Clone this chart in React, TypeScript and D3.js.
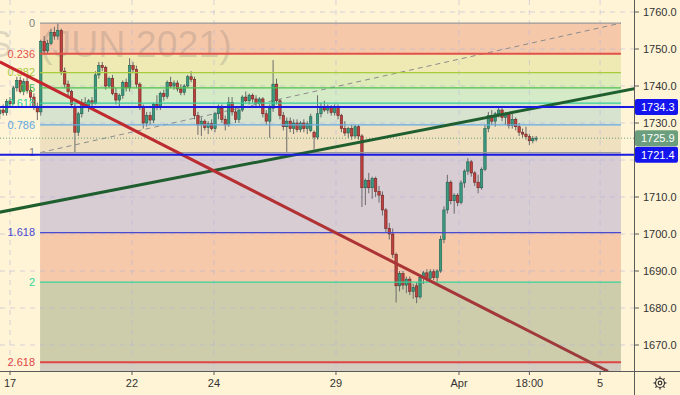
import React, { useEffect } from 'react';
import * as d3 from 'd3';

// 2h bars, [open, high, low, close]
const candles: [number, number, number, number][] = [
  [1732.5, 1734, 1731, 1733.5], [1733.5, 1735, 1732, 1732.8], [1732.8, 1736.5, 1732, 1735.8], [1735.8, 1737, 1734.5, 1735.2],
  [1735.2, 1740, 1735, 1739.5], [1739.5, 1742.5, 1738.5, 1741.5], [1741.5, 1742.5, 1738, 1738.5], [1738.5, 1742, 1737.5, 1741.2],
  [1741.2, 1742.5, 1738, 1738.8], [1738.8, 1740, 1736, 1737], [1737, 1738, 1733.5, 1734.5], [1734.5, 1735.5, 1730.8, 1733],
  [1733, 1752.5, 1732, 1752], [1752, 1753.5, 1748.5, 1749.5], [1749.5, 1752.5, 1748.5, 1751.5], [1751.5, 1755.5, 1751, 1754.5],
  [1754.5, 1756, 1752.5, 1753.5], [1753.5, 1757, 1752.5, 1755], [1755, 1755.5, 1743, 1744], [1744, 1745, 1739.5, 1740.5],
  [1740.5, 1741.5, 1737.5, 1738.5], [1738.5, 1739, 1734, 1735], [1734.5, 1735.5, 1722, 1727.5], [1727.5, 1733, 1726.5, 1732.5],
  [1732.5, 1736.5, 1731.5, 1735.5], [1735.5, 1737, 1734, 1734.5], [1734.5, 1736.5, 1733, 1736], [1736, 1737, 1734.5, 1735.2],
  [1735.2, 1744, 1735, 1743], [1743, 1746.5, 1742, 1745.5], [1745.5, 1746.5, 1744, 1745], [1745, 1745.5, 1739, 1740],
  [1740, 1742.5, 1739.5, 1742], [1742, 1743, 1737.5, 1738], [1738, 1739.5, 1735, 1736.2], [1736.2, 1738, 1734.5, 1737.5],
  [1737.5, 1741.5, 1736.5, 1741], [1741, 1742, 1738.5, 1739.5], [1739.5, 1747.5, 1738.5, 1745.5], [1745.5, 1746.5, 1743.5, 1744.5],
  [1744.5, 1745.5, 1739.5, 1740.5], [1740.5, 1741, 1733.5, 1734.5], [1734.5, 1735, 1728.5, 1730], [1730, 1733, 1729, 1732],
  [1732, 1733, 1729.5, 1730.8], [1730.8, 1735.5, 1730, 1735], [1735, 1737.5, 1733.5, 1734.2], [1734.2, 1738.5, 1733.5, 1738],
  [1738, 1739, 1736, 1737.2], [1737.2, 1741.5, 1736.5, 1741], [1741, 1742.5, 1739.5, 1740], [1740, 1741.5, 1739, 1740.8],
  [1740.8, 1741.5, 1738.5, 1739.2], [1739.2, 1740.5, 1737.5, 1738.3], [1738.3, 1740.5, 1737.5, 1740], [1740, 1743, 1739.5, 1742.5],
  [1742.5, 1744, 1741, 1741.8], [1741.8, 1742.5, 1731, 1732], [1732, 1733, 1726.8, 1729.5], [1729.5, 1731.5, 1726.5, 1730.5],
  [1730.5, 1731, 1728, 1728.8], [1728.8, 1730.5, 1727, 1729.8], [1729.8, 1731, 1728, 1728.5], [1728.5, 1733, 1727.5, 1732.5],
  [1732.5, 1735, 1731, 1734], [1734, 1735, 1730, 1731], [1731, 1732, 1728, 1729.5], [1729.5, 1737, 1729, 1735.5],
  [1735.5, 1737, 1732, 1733], [1733, 1734, 1730, 1731], [1731, 1734, 1730, 1733.5], [1733.5, 1737.5, 1733, 1737],
  [1737, 1738.5, 1735.5, 1736], [1736, 1738, 1735, 1737.5], [1737.5, 1738, 1735.5, 1736.5], [1736.5, 1737.5, 1734.5, 1735.2],
  [1735.2, 1737, 1734.5, 1736.5], [1736.5, 1737, 1731.5, 1732.5], [1732.5, 1733.5, 1729.5, 1730.5], [1730.5, 1735, 1726, 1734],
  [1734, 1747, 1733, 1740.5], [1740.5, 1742, 1735, 1736], [1736, 1736.5, 1731, 1732], [1732, 1733, 1728, 1729],
  [1729, 1731.5, 1722.2, 1730.5], [1730.5, 1731.5, 1727.5, 1728.5], [1728.5, 1731, 1727, 1730], [1730, 1731, 1727.5, 1728.2],
  [1728.2, 1730.5, 1727.5, 1730], [1730, 1731, 1727.5, 1728.5], [1728.5, 1730.5, 1727, 1729.8], [1728, 1732.5, 1727.5, 1731.7],
  [1727.5, 1728, 1722.8, 1726.2], [1726.2, 1737.5, 1725.5, 1732.5], [1732.5, 1735.5, 1731.5, 1734.5], [1734.5, 1736, 1733, 1733.5],
  [1733.5, 1735, 1732.5, 1734.2], [1734.2, 1734.8, 1732, 1732.8], [1732.8, 1735, 1732, 1734.5], [1734.5, 1735, 1731, 1732],
  [1732, 1732.5, 1727.5, 1728.5], [1728.5, 1730.5, 1726.5, 1727.3], [1727.3, 1729, 1726, 1728.5], [1728.5, 1729.5, 1725.5, 1726.5],
  [1726.5, 1729.5, 1725.8, 1729], [1729, 1729.5, 1725.5, 1726.5], [1726.5, 1727, 1707.3, 1712.5], [1712.5, 1715, 1707.8, 1714.5],
  [1714.5, 1716.5, 1711, 1712.5], [1712.5, 1715.5, 1709.5, 1715], [1715, 1715.5, 1710, 1711.5], [1711.5, 1713, 1708.5, 1710.5],
  [1710.5, 1711.5, 1705, 1706.5], [1706.5, 1707, 1700.5, 1701.5], [1701.5, 1703, 1698.5, 1700], [1700, 1701.5, 1693.5, 1694.5],
  [1694.5, 1695, 1681.5, 1686], [1686, 1690, 1684.5, 1689.3], [1689.3, 1690, 1685, 1686.2], [1686.2, 1688.5, 1684, 1687.8],
  [1687.8, 1688.5, 1683.5, 1684.5], [1684.5, 1686.5, 1682.5, 1685.5], [1686, 1687, 1681.3, 1683], [1683, 1689, 1682.5, 1688.2],
  [1688.2, 1690, 1686.5, 1689.5], [1689.5, 1690.5, 1687, 1688], [1688, 1690.5, 1687, 1689.8], [1689.8, 1690.5, 1687.5, 1688.2],
  [1688.2, 1690.5, 1687, 1690], [1690, 1699.5, 1689.5, 1698.5], [1698.5, 1707.5, 1697.5, 1706.5], [1706.5, 1716, 1705.5, 1714],
  [1714, 1714.5, 1708, 1709], [1709, 1711, 1705.5, 1710.5], [1710.5, 1711, 1707.5, 1708.5], [1708.5, 1714.5, 1708, 1713.8],
  [1713.8, 1717.5, 1712.5, 1717], [1717, 1720.5, 1716, 1719.5], [1719.5, 1720, 1715.5, 1716.5], [1716.5, 1717, 1713, 1714],
  [1714, 1716, 1711, 1712.5], [1712.5, 1718, 1712, 1717.5], [1717.5, 1729.5, 1717, 1728.5], [1728.5, 1733, 1727.5, 1732],
  [1732, 1733.5, 1729.5, 1730.5], [1730.5, 1733, 1729, 1732.5], [1732.5, 1734.4, 1731.5, 1733.5], [1733.5, 1734, 1730.5, 1731.5],
  [1731.5, 1733, 1729.5, 1732.5], [1732.5, 1733, 1728.5, 1729.3], [1729.3, 1732.5, 1728.5, 1731], [1731, 1731.5, 1728, 1729],
  [1729, 1730, 1726.5, 1727.5], [1727.5, 1728.5, 1726, 1727], [1727, 1729, 1725.5, 1726.3], [1726.3, 1727, 1724, 1725.2],
  [1725.2, 1726.5, 1724.5, 1725.8], [1725.8, 1726.5, 1725, 1725.9],
];

const priceTicks = [1760, 1750, 1740, 1730, 1720, 1710, 1700, 1690, 1680, 1670];
const dateLabels = ['17', '22', '24', '29', 'Apr', '18:00', '5'];
const dateBars = [3, 38.7, 62.7, 98.4, 134.4, 155, 175.7];

// fib retracement drawn from 1757.0 (level 0) to 1722.0 (level 1)
const fibLevels = [0, 0.236, 0.382, 0.5, 0.618, 0.786, 1, 1.618, 2, 2.618];
const fibLineColors = ['#9a9a9a', '#e0524a', '#a9cc3c', '#4cc24c', '#2fcf9c', '#62a9e2', '#9a9a9a', '#4a4ad0', '#34d49a', '#e04545'];
const fibZoneColors = ['#f6c8aa', '#efe9b4', '#dfebb9', '#d5ebc7', '#d7e3cf', '#efe1c0', '#d8cdd3', '#f5c9a9', '#cdccab', '#d2cdc0'];
const fibPrices = [1757.0, 1722.0];
const fibBars = [11.8, 181.8];

const markedPrices = [1734.3, 1721.4];
const lastPrice = 1725.9;

const greenTrend: [number, number][] = [[0, 1705.9], [186, 1739.3]];
const redTrend: [number, number][] = [[0, 1746.5], [178, 1662.9]];

const W = 634;
const H = 371;
const font = '"Liberation Sans", Arial, sans-serif';

const App = () => {
  useEffect(() => {
    document.body.style.margin = '0';
  }, []);

  const x = d3.scaleLinear().domain([0, 186]).range([-0.25, 635.3]);
  const y = d3.scaleLinear().domain([1670, 1760]).range([345, 12]);
  const fibPrice = (l: number) => fibPrices[0] - l * (fibPrices[0] - fibPrices[1]);
  const fx0 = x(fibBars[0]);
  const fx1 = x(fibBars[1]);
  const line = d3.line<[number, number]>().x(d => x(d[0])).y(d => y(d[1]));
  const bw = 2.4;
  const boxed = [...markedPrices, lastPrice];
  // axis labels hidden under the price boxes, like the original
  const visibleTicks = priceTicks.filter(p => boxed.every(b => Math.abs(y(b) - y(p)) > 13));

  return (
    <svg width={680} height={395} style={{ position: 'absolute', left: 0, top: 0, display: 'block' }}>
      <defs>
        <clipPath id="pane"><rect x={0} y={0} width={W} height={H} /></clipPath>
        <linearGradient id="redLine" x1="0" x2="1" y1="0" y2="0">
          <stop offset="0" stopColor="#c8262c" />
          <stop offset="1" stopColor="#9a3c3c" />
        </linearGradient>
      </defs>
      <rect x={0} y={0} width={680} height={395} fill="#fff4d6" />
      <g clipPath="url(#pane)">
        {fibLevels.map((l, i) => {
          const top = y(fibPrice(l));
          const bottom = i < fibLevels.length - 1 ? y(fibPrice(fibLevels[i + 1])) : H;
          return <rect key={'z' + i} x={fx0} y={top} width={fx1 - fx0} height={bottom - top} fill={fibZoneColors[i]} />;
        })}
        {priceTicks.map(p => (
          <line key={'gy' + p} x1={0} x2={W} y1={y(p)} y2={y(p)} stroke="#b4b4dc" strokeOpacity={0.55} strokeDasharray="5 5" />
        ))}
        {dateBars.map((b, i) => (
          <line key={'gx' + i} x1={x(b)} x2={x(b)} y1={0} y2={H} stroke="#b4b4dc" strokeOpacity={0.55} strokeDasharray="5 5" />
        ))}
        <text x={-13} y={57} fontFamily={font} fontSize={37.5} fill="#6e6e6e" fillOpacity={0.22}>S</text>
        <text x={40} y={57} fontFamily={font} fontSize={37.5} fill="#6e6e6e" fillOpacity={0.22}>(JUN 2021)</text>
        <line x1={fx0} y1={y(fibPrices[1])} x2={fx1} y2={y(fibPrices[0])} stroke="#8c8c8c" strokeWidth={1} strokeDasharray="5 4" />
        {candles.map((c, i) => {
          const [o, h, l, cl] = c;
          const up = cl >= o;
          const cx = x(i);
          const top = y(Math.max(o, cl));
          const bh = Math.max(1, y(Math.min(o, cl)) - top);
          return (
            <g key={'c' + i}>
              <line x1={cx} x2={cx} y1={y(h)} y2={y(l)} stroke="#6a6a6a" strokeWidth={1} />
              <rect x={cx - bw / 2} y={top} width={bw} height={bh}
                fill={up ? '#3a9a80' : '#bf403c'} stroke={up ? '#22604f' : '#6e2424'} strokeWidth={0.6} />
            </g>
          );
        })}
        {fibLevels.map((l, i) => (
          <line key={'fl' + i} x1={fx0} x2={fx1} y1={y(fibPrice(l))} y2={y(fibPrice(l))}
            stroke={fibLineColors[i]} strokeWidth={l === 0.236 || l === 2.618 ? 2 : 1.3} />
        ))}
        {fibLevels.map((l, i) => (
          <text key={'ft' + i} x={35} y={y(fibPrice(l))} dy="0.35em" textAnchor="end" fontFamily={font} fontSize={11}
            fill={fibLineColors[i] === '#9a9a9a' ? '#808080' : fibLineColors[i]}>{String(l)}</text>
        ))}
        <line x1={0} x2={W} y1={y(lastPrice)} y2={y(lastPrice)} stroke="#5f9e78" strokeWidth={1} strokeDasharray="1 2" />
        <path d={line(greenTrend) || ''} stroke="#1f5e2e" strokeWidth={3} fill="none" />
        <path d={line(redTrend) || ''} stroke="url(#redLine)" strokeWidth={3} fill="none" />
        {markedPrices.map(p => (
          <line key={'mp' + p} x1={0} x2={W} y1={y(p)} y2={y(p)} stroke="#1a1ae0" strokeWidth={2} />
        ))}
      </g>
      <line x1={W + 0.5} x2={W + 0.5} y1={0} y2={395} stroke="#5a5a5a" />
      <line x1={0} x2={680} y1={H + 0.5} y2={H + 0.5} stroke="#5a5a5a" />
      {visibleTicks.map(p => (
        <g key={'pt' + p}>
          <line x1={W} x2={W + 5} y1={y(p)} y2={y(p)} stroke="#5a5a5a" />
          <text x={643} y={y(p)} dy="0.35em" fontFamily={font} fontSize={11} fill="#333">{p.toFixed(1)}</text>
        </g>
      ))}
      {dateBars.map((b, i) => (
        <g key={'dt' + i}>
          <line x1={x(b)} x2={x(b)} y1={H} y2={H + 4} stroke="#5a5a5a" />
          <text x={x(b)} y={387} textAnchor="middle" fontFamily={font} fontSize={11} fill="#333">{dateLabels[i]}</text>
        </g>
      ))}
      {boxed.map(p => {
        const isLast = p === lastPrice;
        return (
          <g key={'lb' + p}>
            <rect x={W + 1} y={y(p) - 8} width={43} height={16} rx={2} fill={isLast ? '#6a9e7c' : '#1414ee'} />
            <text x={641} y={y(p)} dy="0.35em" fontFamily={font} fontSize={11} fill="#fff">{p.toFixed(1)}</text>
          </g>
        );
      })}
      <g transform="translate(660,383)" stroke="#333" fill="none" strokeWidth={1.2}>
        <circle r={4.5} />
        <circle r={1.8} />
        {d3.range(8).map(k => {
          const a = (k * Math.PI) / 4;
          return <line key={'g' + k} x1={Math.cos(a) * 4.5} y1={Math.sin(a) * 4.5} x2={Math.cos(a) * 6.5} y2={Math.sin(a) * 6.5} />;
        })}
      </g>
    </svg>
  );
};

export default App;
